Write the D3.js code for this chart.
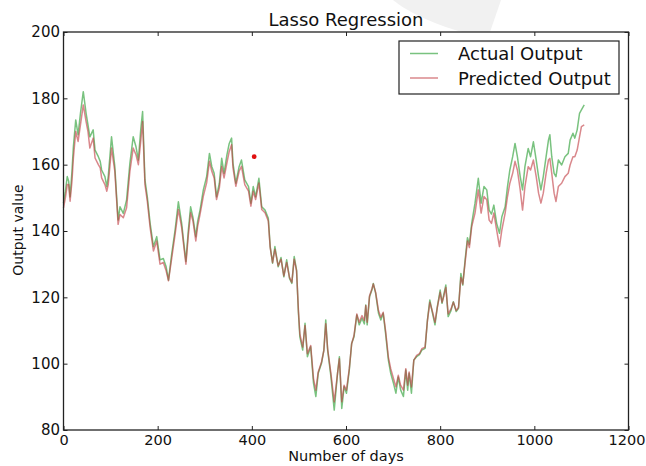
<!DOCTYPE html>
<html>
<head>
<meta charset="utf-8">
<script src="https://cdn.jsdelivr.net/npm/d3@7/dist/d3.min.js"></script>
<style>
  html, body { margin: 0; padding: 0; background: #fff; }
  svg { display: block; }
  text { font-family: "DejaVu Sans", sans-serif; fill: #111; }
</style>
</head>
<body>
<svg id="chart" width="646" height="466"></svg>
<script>
// ---- data ----
const days = [0,4,8,11,14,18,21,26,31,36,42,48,52,56,63,67,74,78,81,88,92,95,102,109,113,116,120,127,134,141,148,154,159,164,168,173,178,184,191,198,205,212,218,223,230,237,244,251,255,260,265,270,275,281,285,290,297,304,310,315,320,325,331,336,341,347,352,357,360,366,373,378,385,393,398,403,408,415,421,428,435,439,444,449,456,462,468,474,480,485,490,495,499,502,508,513,518,525,531,536,541,548,553,557,561,568,575,582,586,591,596,601,607,612,617,623,628,634,639,642,645,650,655,658,663,669,674,679,684,690,695,701,706,711,716,722,727,731,734,739,744,750,756,761,768,773,778,784,789,794,800,804,808,812,817,823,828,834,839,844,848,853,858,862,867,874,881,887,893,899,904,909,914,920,926,931,938,943,948,954,959,964,970,975,980,987,992,998,1004,1009,1014,1019,1025,1030,1033,1037,1042,1046,1051,1058,1065,1072,1076,1082,1086,1091,1096,1100,1106];

const actualOutput = [148.4,152,156.4,155,150.3,158,165.4,173.5,169,175.5,182,175.5,172,168.4,170.5,164.4,162.4,161,158.4,156.4,153.4,156.4,168.4,159.4,150,143.3,147.3,145.3,149.4,160.4,168.4,165.4,161.4,170.5,176,155.4,150.3,142.3,135.3,138.3,131.3,131.7,129.2,125.2,133.3,140.3,148.8,142.3,137,130.8,140,147.3,144,138.3,143,146.3,152.4,156.4,163.4,159.4,157.4,150.3,154.4,161.9,157.4,162.9,166.4,168,160.4,154.4,159.4,161.4,155.4,153.4,148.4,153.4,150.3,155.9,147.3,146.3,143.8,135.3,130.3,135.3,129.2,132,126.2,131.3,125.7,124.2,132.3,128.2,115.2,108.1,104.1,112.2,102.1,105.1,94.1,90.1,97.1,100.1,104.1,113.2,104.1,96.1,86,97.1,102.1,86.5,93.1,91.1,98.1,106.1,108.1,114.7,111.7,113.7,112,117.7,111.7,120.2,122.2,124.2,121.2,115.2,113.2,115.2,109.2,101.1,97.1,94,91.1,96,92.1,90.1,98.1,92,97.1,91.1,101.1,102.1,102.7,104.1,104.6,113.2,119.2,115,111.7,117.2,122.2,118.2,121,123.7,114.2,116,118.7,115.7,116.7,127.2,123.7,131.3,138,136,142.3,148.4,155.9,148.4,153.4,152.4,146.3,145.1,147.8,142.3,139.3,144.3,147.3,153.4,158.4,162.4,166.4,162.4,156.4,152.4,159.4,164.9,162.4,166.9,161.4,156.4,152.4,156.4,162.4,167.4,169,162.4,157.4,156.4,161.4,159.9,162.4,163.4,167.4,169.5,168,170.5,175.5,176.5,178];

const predictedOutput = [147,150,154,154,149,155,162,170,167,172,178,173,170,165,168,162,160,159,156,154,152,154,165,158,149,142,145,144,147,158,165,163,160,167,173,154,149,141,134,137,130,130.5,128,125,132,139,146.5,141,136,130,138.5,145.5,143,137,141.5,145,150.5,154.5,161,158,156,149.5,153,159.5,156,160.5,164,166,159,153.5,158,159.5,154,152,147.5,152,149.5,154.5,146.5,145.5,143,135,130.5,134.5,129.5,131.5,126.5,130.5,126,124.5,131.5,128,116,109,105,111.5,103,105.5,95.5,92,97.5,100.5,104,112,104.5,97,88.5,97,101.5,88.5,93.5,92,98.5,106,108.5,115,112.5,114.5,113,117.5,112.5,120.5,122.5,124,121.5,116,114,115.5,110,102,98.5,95.5,93,96.5,93.5,92,98.5,93.5,97.5,93,101,102.5,103,104.5,105,113,118.5,115.5,112.5,117,121.5,118.5,120.5,123,115,116.5,118.5,116,117,126,124,130.5,137,135,141.3,145.4,152.4,145.4,150.4,149.4,143.3,142.3,145.4,140.3,135.3,140.3,145.4,150.4,154.4,157.4,161,158.4,152.4,146.3,153.4,159.4,158.4,161.4,156.4,151.4,148.4,151.4,157.4,161.4,161.9,157.4,151.4,148.9,153.4,154.4,156.4,157.4,159.9,162.4,162.4,164.4,168.4,171.5,172];

const markerDay = [405];
const markerValue = [162.4];

const xTicks = [0,200,400,600,800,1000,1200];
const yTicks = [80,100,120,140,160,180,200];
const seriesNames = ["Actual Output", "Predicted Output"];
const seriesColors = ["#1f9a2a", "#c0393f"];

// ---- layout ----
const svg = d3.select("#chart");
const L = 63.5, R = 628.5, T = 32, B = 430;

const x = d3.scaleLinear().domain([0, 1200]).range([L, R]);
const y = d3.scaleLinear().domain([80, 200]).range([B, T]);

// faint watermark shape at the top
svg.append("path")
  .attr("d", "M393,0 C410,14 440,26 462,32 L490,32 L501,0 Z")
  .attr("fill", "#f1f1f1");

// plot background
svg.append("rect").attr("x", L).attr("y", T).attr("width", R - L).attr("height", B - T).attr("fill", "#fff");

// lines
const line = d3.line().x((d, i) => x(days[i])).y(d => y(d));
const series = [actualOutput, predictedOutput];
series.forEach((vals, k) => {
  svg.append("path")
    .datum(vals)
    .attr("d", line)
    .attr("fill", "none")
    .attr("stroke", seriesColors[k])
    .attr("stroke-opacity", 0.6)
    .attr("stroke-width", 1.5)
    .attr("stroke-linejoin", "round");
});

// red marker point
svg.selectAll("circle.marker").data(markerDay).enter().append("circle")
  .attr("class", "marker")
  .attr("cx", d => x(d))
  .attr("cy", (d, i) => y(markerValue[i]))
  .attr("r", 2.4)
  .attr("fill", "#e01010");

// axes (ticks point inward, matplotlib classic)
function styleAxis(g) {
  g.select(".domain").remove();
  g.selectAll(".tick line").attr("stroke", "#222").attr("stroke-width", 1);
  g.selectAll("text").style("font-family", "DejaVu Sans, sans-serif").style("font-size", "14.5px").attr("fill", "#111");
}
const gx = svg.append("g").attr("transform", `translate(0,${B})`)
  .call(d3.axisBottom(x).tickValues(xTicks).tickFormat(d3.format("d")).tickSize(-4).tickPadding(5).tickSizeOuter(0))
  .call(styleAxis);
gx.selectAll(".tick text").filter(d => d === xTicks[xTicks.length - 1]).attr("dx", -2);
svg.append("g").attr("transform", `translate(0,${T})`)
  .call(d3.axisTop(x).tickValues(xTicks).tickFormat("").tickSize(-4).tickSizeOuter(0))
  .call(styleAxis);
svg.append("g").attr("transform", `translate(${L},0)`)
  .call(d3.axisLeft(y).tickValues(yTicks).tickFormat(d3.format("d")).tickSize(-4).tickPadding(3.5).tickSizeOuter(0))
  .call(styleAxis)
  .selectAll("text").style("font-size", "15px");
svg.append("g").attr("transform", `translate(${R},0)`)
  .call(d3.axisRight(y).tickValues(yTicks).tickFormat("").tickSize(-4).tickSizeOuter(0))
  .call(styleAxis);

// frame
svg.append("rect").attr("x", L).attr("y", T).attr("width", R - L).attr("height", B - T)
  .attr("fill", "none").attr("stroke", "#222").attr("stroke-width", 1.3);

// title and labels
svg.append("text").attr("x", (L + R) / 2).attr("y", 26).attr("text-anchor", "middle")
  .style("font-size", "18px").text("Lasso Regression");
svg.append("text").attr("x", (L + R) / 2).attr("y", 461).attr("text-anchor", "middle")
  .style("font-size", "14.5px").text("Number of days");
svg.append("text").attr("transform", "translate(23,230) rotate(-90)").attr("text-anchor", "middle")
  .style("font-size", "14px").text("Output value");

// legend
const lg = svg.append("g");
lg.append("rect").attr("x", 399).attr("y", 41).attr("width", 220).attr("height", 53)
  .attr("fill", "#fff").attr("stroke", "#222").attr("stroke-width", 1.2);
seriesNames.forEach((name, k) => {
  const yy = 53.5 + k * 24.5;
  lg.append("line").attr("x1", 410).attr("x2", 438).attr("y1", yy).attr("y2", yy)
    .attr("stroke", seriesColors[k]).attr("stroke-opacity", 0.6).attr("stroke-width", 1.5);
  lg.append("text").attr("x", 458).attr("y", yy + 6.5).style("font-size", "18px").text(name);
});
</script>
</body>
</html>
